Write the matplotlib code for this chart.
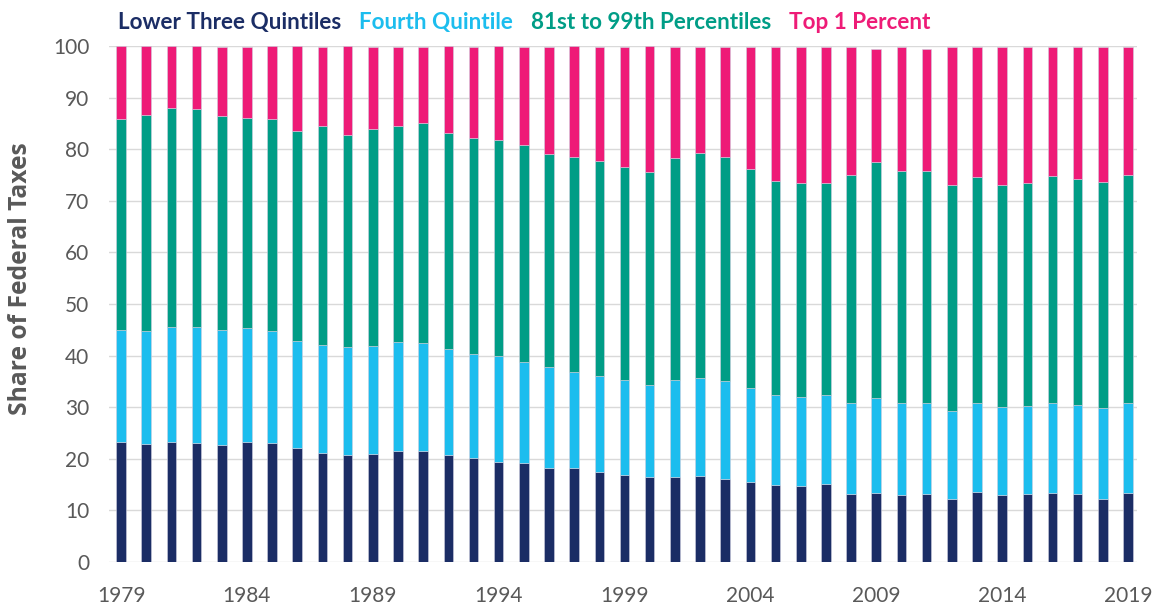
import numpy as np
import matplotlib.pyplot as plt
from matplotlib.patches import Patch

years = list(range(1979, 2020))

# shares of federal taxes, percent
lower_three = [23.2, 22.8, 23.2, 23.0, 22.6, 23.2, 23.0, 22.1, 21.1, 20.7,
               20.9, 21.5, 21.5, 20.7, 20.1, 19.4, 19.2, 18.2, 18.2, 17.5,
               16.9, 16.4, 16.4, 16.6, 16.0, 15.6, 15.0, 14.8, 15.2, 13.1,
               13.3, 12.9, 13.1, 12.3, 13.5, 12.9, 13.1, 13.3, 13.1, 12.3, 13.3]
fourth = [21.7, 21.9, 22.3, 22.5, 22.3, 22.1, 21.7, 20.8, 21.0, 21.0,
          21.0, 21.2, 21.0, 20.5, 20.3, 20.6, 19.6, 19.5, 18.7, 18.6,
          18.3, 17.9, 18.9, 19.1, 19.0, 18.2, 17.4, 17.2, 17.2, 17.8,
          18.4, 18.0, 17.8, 17.0, 17.4, 17.2, 17.2, 17.6, 17.3, 17.5, 17.6]
p81_99 = [40.9, 41.9, 42.4, 42.2, 41.6, 40.8, 41.1, 40.7, 42.3, 41.0,
          42.0, 41.7, 42.5, 42.0, 41.8, 41.8, 42.1, 41.4, 41.5, 41.7,
          41.4, 41.2, 42.9, 43.5, 43.4, 42.3, 41.5, 41.4, 41.0, 44.1,
          45.9, 44.8, 44.8, 43.7, 43.8, 43.0, 43.2, 43.9, 43.9, 43.9, 44.1]
top1 = [14.2, 13.4, 12.1, 12.3, 13.3, 13.7, 14.2, 16.4, 15.4, 17.3,
        15.9, 15.4, 14.8, 16.8, 17.6, 18.2, 18.9, 20.7, 21.6, 22.0,
        23.2, 24.5, 21.6, 20.6, 21.4, 23.7, 25.9, 26.4, 26.4, 24.8,
        21.9, 24.1, 23.8, 26.8, 25.1, 26.7, 26.3, 25.0, 25.5, 26.1, 24.8]

series = [lower_three, fourth, p81_99, top1]
names = ['Lower Three Quintiles', 'Fourth Quintile', '81st to 99th Percentiles', 'Top 1 Percent']
colors = ['#1b2d65', '#1cbdee', '#009d86', '#ee1b77']

plt.rcParams['font.family'] = ['Lato', 'DejaVu Sans']

fig = plt.figure(figsize=(11.58, 6.06), dpi=100)
ax = fig.add_axes([0.0941, 0.0726, 0.8878, 0.8515])

x = np.arange(len(years))
bottom = np.zeros(len(years))
for vals, c in zip(series, colors):
    ax.bar(x, vals, width=0.38, bottom=bottom, color=c, edgecolor='#d0d0e0',
           linewidth=0.4, zorder=3)
    bottom += np.array(vals)

ax.set_xlim(-0.48, 40.36)
ax.set_ylim(0, 100)
ax.set_yticks(range(0, 101, 10))
ax.set_xticks(x[::5])
ax.set_xticklabels([str(y) for y in years[::5]])
ax.grid(axis='y', color='#d9d9d9', linewidth=1, zorder=0)
for s in ax.spines.values():
    s.set_visible(False)
ax.tick_params(axis='both', length=0, labelsize=15, labelcolor='#595959')
ax.tick_params(axis='x', pad=17)
ax.tick_params(axis='y', pad=14)

ax.set_ylabel('Share of Federal Taxes', fontsize=17.7, fontweight='bold',
              color='#595959', family=['Open Sans', 'DejaVu Sans'])
ax.yaxis.set_label_coords(-0.074, 0.55)

handles = [Patch(color=c, alpha=0) for c in colors]
leg = fig.legend(handles, names, ncol=4, loc='center left',
                 bbox_to_anchor=(0.092, 0.963), frameon=False,
                 handlelength=0, handletextpad=0, columnspacing=0.8,
                 prop={'size': 16.2, 'weight': 'bold'}, borderpad=0)
for t, c in zip(leg.get_texts(), colors):
    t.set_color(c)

fig.savefig('out.png', dpi=100)
